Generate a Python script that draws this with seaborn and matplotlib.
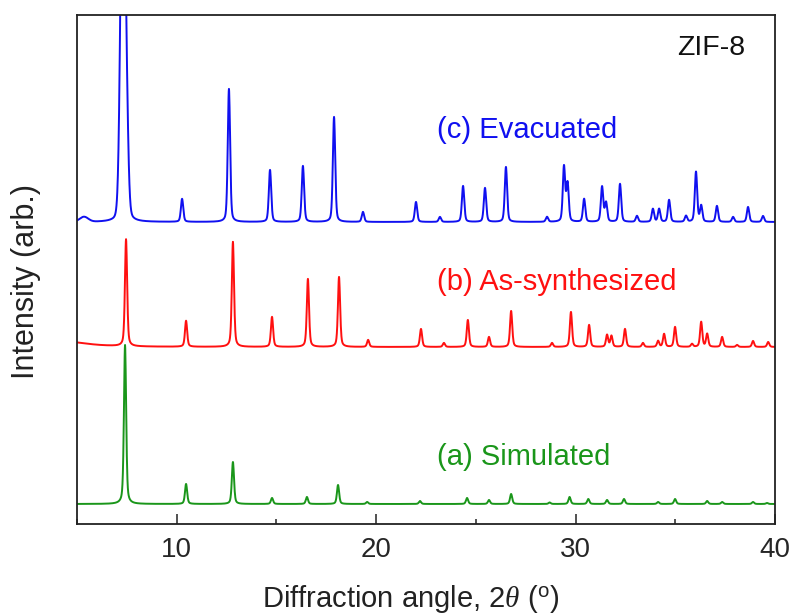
import numpy as np
import pandas as pd
import matplotlib
matplotlib.use("Agg")
import matplotlib.pyplot as plt
from matplotlib.ticker import MultipleLocator
import seaborn as sns

# Peak positions (2-theta, degrees) and heights (arb.) for each pattern
sim_pos = [7.41, 10.47, 12.82, 14.78, 16.53, 18.09, 19.55, 22.2, 24.56, 25.66,
           26.77, 28.7, 29.7, 30.64, 31.58, 32.43, 34.14, 34.99, 36.6, 37.35,
           38.9, 39.6]
sim_height = [159, 20, 42, 6, 7, 19, 2, 3, 6, 4,
              10, 1.5, 7, 5, 4, 5, 2, 5, 3, 2,
              2, 1]

syn_pos = [7.46, 10.47, 12.82, 14.78, 16.58, 18.14, 19.6, 22.25, 23.4, 24.6,
           25.66, 26.77, 28.82, 29.77, 30.68, 31.58, 31.8, 32.48, 33.38, 34.14,
           34.44, 34.99, 35.84, 36.3, 36.6, 37.35, 38.1, 38.9, 39.66]
syn_height = [107, 26, 105, 30, 68, 70, 7, 18, 4, 27,
              10, 36, 4, 35, 22, 12, 11, 18, 4, 6,
              13, 20, 3, 25, 13, 10, 2, 6, 5]

eva_pos = [10.27, 12.62, 14.68, 16.33, 17.89, 19.34, 22.0, 23.2,
           24.36, 25.46, 26.51, 28.57, 29.42, 29.6, 30.43, 31.33, 31.53, 32.23,
           33.08, 33.88, 34.19, 34.69, 35.54, 36.04, 36.3, 37.09, 37.9, 38.65,
           39.4]
eva_height = [23, 133, 52, 56, 105, 10, 20, 5,
              36, 34, 55, 5, 55, 38, 23, 35, 19, 38,
              6, 13, 13, 22, 6, 50, 16, 16, 5, 15,
              6]

# Saturated main reflection of the evacuated sample and its shoulder
eva_main_pos, eva_main_height = [7.31], [430]
eva_shoulder_pos, eva_shoulder_height = [7.52], [45]

# Broad low-angle background features
syn_bg_pos, syn_bg_height = [4.6], [5]
eva_bg_pos, eva_bg_height = [5.35], [5]

# Vertical offsets of the stacked patterns
offsets = {"(a) Simulated": 20, "(b) As-synthesized": 177, "(c) Evacuated": 302}
colors = {"(a) Simulated": "#1a961a", "(b) As-synthesized": "#ff1010",
          "(c) Evacuated": "#1010f0"}

two_theta = np.arange(5.0, 40.0001, 0.01)


def pseudo_voigt(x, pos, height, fwhm, eta=0.5):
    total = np.zeros_like(x)
    for p, h in zip(pos, height):
        d = (x - p) / (fwhm / 2)
        lor = 1.0 / (1.0 + d ** 2)
        gau = np.exp(-np.log(2) * d ** 2)
        total += h * (eta * lor + (1 - eta) * gau)
    return total


profiles = {
    "(a) Simulated": pseudo_voigt(two_theta, sim_pos, sim_height, 0.13, 0.45),
    "(b) As-synthesized": pseudo_voigt(two_theta, syn_pos, syn_height, 0.13, 0.45)
    + pseudo_voigt(two_theta, syn_bg_pos, syn_bg_height, 2.5, 1.0),
    "(c) Evacuated": pseudo_voigt(two_theta, eva_pos, eva_height, 0.14, 0.35)
    + pseudo_voigt(two_theta, eva_main_pos, eva_main_height, 0.28, 0.12)
    + pseudo_voigt(two_theta, eva_shoulder_pos, eva_shoulder_height, 0.2, 0.3)
    + pseudo_voigt(two_theta, eva_bg_pos, eva_bg_height, 0.5, 0.0),
}

frames = []
for name, prof in profiles.items():
    frames.append(pd.DataFrame({"two_theta": two_theta,
                                "intensity": prof + offsets[name],
                                "sample": name}))
df = pd.concat(frames, ignore_index=True)

sns.set_theme(style="white")
plt.rcParams["font.family"] = ["Liberation Sans", "DejaVu Sans"]
plt.rcParams["mathtext.fontset"] = "custom"
plt.rcParams["mathtext.rm"] = "Liberation Sans"
plt.rcParams["mathtext.it"] = "Liberation Serif:italic"

fig = plt.figure(figsize=(7.92, 6.14), dpi=100)
ax = fig.add_axes([0.0972, 0.1466, 0.8813, 0.829])

sns.lineplot(data=df, x="two_theta", y="intensity", hue="sample",
             palette=colors, estimator=None, sort=False, legend=False,
             linewidth=1.4, ax=ax)

ax.set_xlim(5, 40)
ax.set_ylim(0, 509)
ax.xaxis.set_major_locator(MultipleLocator(10))
ax.xaxis.set_minor_locator(MultipleLocator(5))
ax.set_yticks([])
ax.tick_params(axis="x", which="major", direction="in", length=7.5, width=1.1,
               labelsize=20, pad=9.5, color="#222222", bottom=True)
ax.tick_params(axis="x", which="minor", direction="in", length=3.8, width=1.1,
               color="#222222", bottom=True)
for s in ax.spines.values():
    s.set_color("#222222")
    s.set_linewidth(1.3)

ax.set_xlabel(r"Diffraction angle, 2$\mathit{\theta}$ ($^{\rm o}$)", fontsize=21,
              color="#222222")
ax.xaxis.set_label_coords(0.4785, -0.116)
ax.set_ylabel("Intensity (arb.)", fontsize=22, color="#222222")
ax.yaxis.set_label_coords(-0.051, 0.477)

label_y = {"(a) Simulated": 67, "(b) As-synthesized": 242, "(c) Evacuated": 394}
for name, yv in label_y.items():
    ax.text(23.05, yv, name, color=colors[name], fontsize=21, ha="left", va="center")
ax.text(35.1, 476, "ZIF-8", color="#111111", fontsize=20.5, ha="left", va="center")

fig.savefig("out.png", dpi=100)
